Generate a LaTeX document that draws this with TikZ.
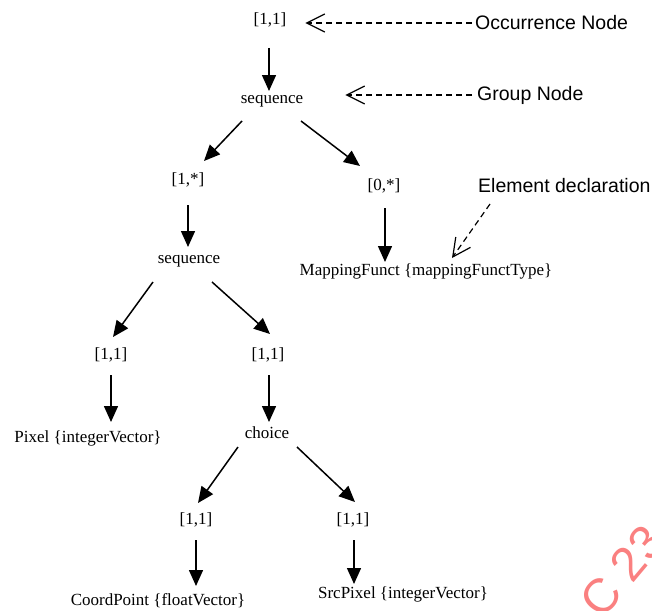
\documentclass[tikz,border=0pt]{standalone}
\usepackage{fontspec}
\setmainfont{Liberation Serif}
\newfontfamily\notefont{Liberation Sans}
\usetikzlibrary{arrows.meta}
\definecolor{stamp}{RGB}{250,128,128}

\begin{document}
\begin{tikzpicture}[x=1pt, y=-1pt,
	term/.style={inner sep=0pt, font=\fontsize{17}{20}\selectfont},
	note/.style={inner sep=0pt, anchor=west, font=\notefont\fontsize{19.5}{22}\selectfont},
	link/.style={line width=1.5pt, -{Triangle[width=14pt,length=16pt]}},
	hint/.style={line width=1.2pt, dash pattern=on 6pt off 4pt, -{Straight Barb[width=18pt,length=18pt]}},
	]
			%%%%% START %%%%%
			\useasboundingbox (0,0) rectangle (652,610);
			
			\node[term] (occ1) at (270,20) {[1,1]};
			\node[term] (seq1) at (272,101) {sequence};
			\node[term] (occ2) at (188,180) {[1,*]};
			\node[term] (occ3) at (384,186) {[0,*]};
			\node[term] (seq2) at (189,261) {sequence};
			\node[term] (map) at (426,271) {MappingFunct \{mappingFunctType\}};
			\node[term] (occ4) at (111,355) {[1,1]};
			\node[term] (occ5) at (268,355) {[1,1]};
			\node[term] (pixel) at (88,438) {Pixel \{integerVector\}};
			\node[term] (choice) at (267,433) {choice};
			\node[term] (occ6) at (196,520) {[1,1]};
			\node[term] (occ7) at (353,520) {[1,1]};
			\node[term] (coord) at (158,601) {CoordPoint \{floatVector\}};
			\node[term] (src) at (403,594) {SrcPixel \{integerVector\}};
			
			\node[note] (occlabel) at (475,23) {Occurrence Node};
			\node[note] (grplabel) at (477,95) {Group Node};
			\node[note] (elemlabel) at (478,186) {Element declaration};
			
			\draw[link] ([shift={(-1,28)}]occ1.center) -- ([shift={(-3,-10)}]seq1.center);
			\draw[link] ([shift={(-30,20)}]seq1.center) -- ([shift={(16,-19)}]occ2.center);
			\draw[link] ([shift={(29,20)}]seq1.center) -- ([shift={(-24,-20)}]occ3.center);
			\draw[link] ([shift={(0,25)}]occ2.center) -- ([shift={(-1,-14)}]seq2.center);
			\draw[link] ([shift={(1,22)}]occ3.center) -- ([shift={(-41,-9)}]map.center);
			\draw[link] ([shift={(-36,21)}]seq2.center) -- ([shift={(2,-18)}]occ4.center);
			\draw[link] ([shift={(23,21)}]seq2.center) -- ([shift={(2,-21)}]occ5.center);
			\draw[link] ([shift={(0,20)}]occ4.center) -- ([shift={(23,-16)}]pixel.center);
			\draw[link] ([shift={(1,20)}]occ5.center) -- ([shift={(2,-11)}]choice.center);
			\draw[link] ([shift={(-29,14)}]choice.center) -- ([shift={(2,-17)}]occ6.center);
			\draw[link] ([shift={(30,14)}]choice.center) -- ([shift={(2,-18)}]occ7.center);
			\draw[link] ([shift={(0,20)}]occ6.center) -- ([shift={(38,-15)}]coord.center);
			\draw[link] ([shift={(1,20)}]occ7.center) -- ([shift={(-49,-10)}]src.center);
			
			\draw[hint] ([xshift=-3pt]occlabel.west) -- ([xshift=19pt]occlabel.west -| occ1.east);
			\draw[hint] ([xshift=-5pt]grplabel.west) -- ([xshift=42pt]grplabel.west -| seq1.east);
			\draw[hint] ([shift={(12,18)}]elemlabel.west) -- ([shift={(26,-13)}]map.center);
			
			\node[inner sep=0pt, anchor=base west, rotate=50, text=stamp, font=\notefont\fontsize{48}{54}\selectfont] (mark) at (602,621) {C 23};
			
			%%%%% END %%%%%
		\end{tikzpicture}
\end{document}
